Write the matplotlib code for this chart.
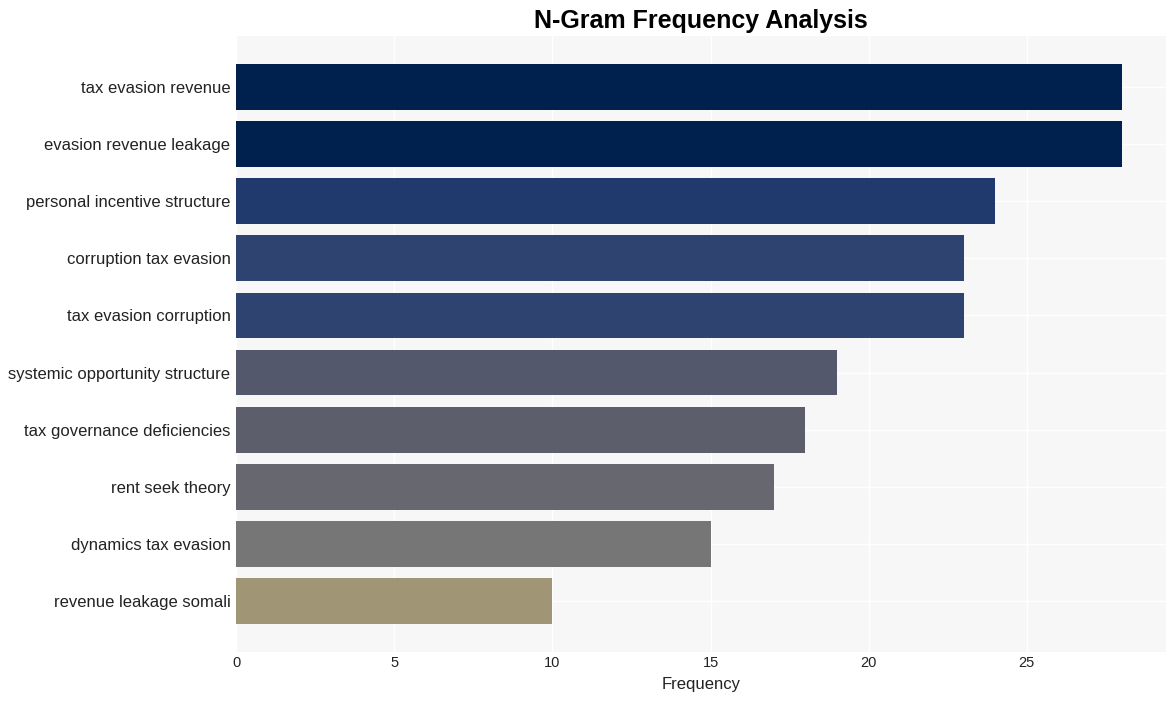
import matplotlib
matplotlib.use('Agg')
import matplotlib.pyplot as plt

plt.rcParams['font.family'] = ['Liberation Sans', 'DejaVu Sans']

# dati
ngrams = ['tax evasion revenue', 'evasion revenue leakage', 'personal incentive structure',
          'corruption tax evasion', 'tax evasion corruption', 'systemic opportunity structure',
          'tax governance deficiencies', 'rent seek theory', 'dynamics tax evasion',
          'revenue leakage somali']
frequenze = [28, 28, 24, 23, 23, 19, 18, 17, 15, 10]
colori = ['#00214e', '#00214e', '#203a6e', '#2e4370', '#2e4370', '#54586c',
          '#5c5f6b', '#66676f', '#767676', '#a09676']

fig = plt.figure(figsize=(11.76, 7.01), dpi=100)
ax = fig.add_axes([0.2007, 0.070, 0.7908, 0.8786])
ax.set_facecolor('#f7f7f7')

pos = list(range(len(ngrams)))
ax.barh(pos, frequenze, height=0.8, color=colori, zorder=2)

ax.set_yticks(pos)
ax.set_yticklabels(ngrams, fontsize=12, color='#222222')
ax.set_ylim(9.89, -0.89)
ax.set_xlim(0, 29.4)
ax.set_xticks([0, 5, 10, 15, 20, 25])
ax.tick_params(axis='x', labelsize=10.5, colors='#222222', length=0, pad=3)
ax.tick_params(axis='y', length=0, pad=4)
ax.grid(True, color='white', linewidth=1, zorder=1)
ax.set_axisbelow(True)
for s in ax.spines.values():
    s.set_visible(False)

ax.set_xlabel('Frequency', fontsize=12, color='#222222', labelpad=5)
ax.set_title('N-Gram Frequency Analysis', fontsize=18, fontweight='bold', pad=6)

fig.savefig('out.png', dpi=100)
